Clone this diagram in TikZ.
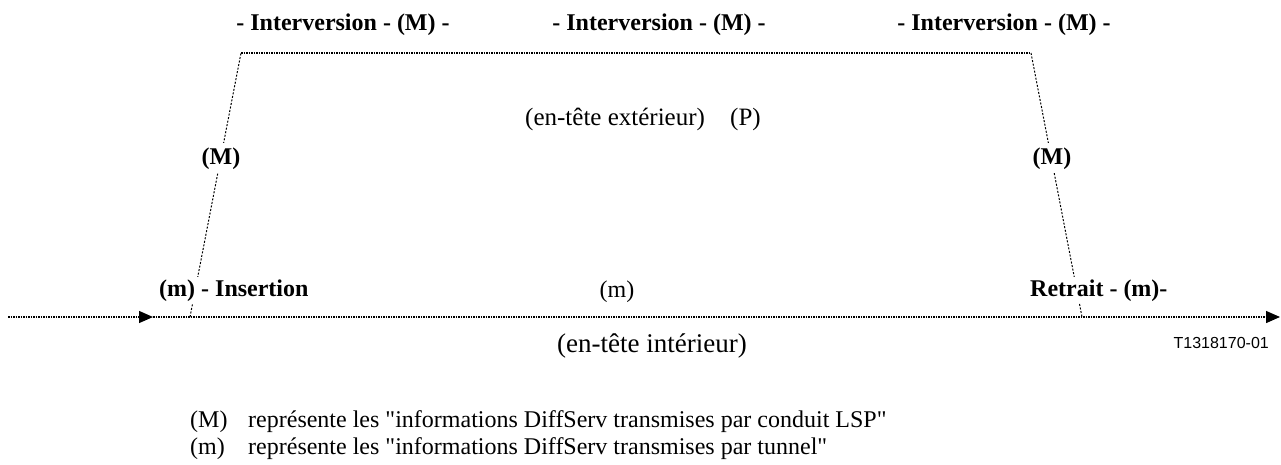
\documentclass[tikz,border=0pt]{standalone}
\usepackage{fontspec}
\setmainfont{Liberation Serif}
\newfontfamily\arialfont{Liberation Sans}
% same serif face, with straight quotes kept as typed
\newfontfamily\rawserif{Liberation Serif}[Ligatures=TeXOff]
\usetikzlibrary{arrows.meta}

\tikzset{
  headerline/.style={line width=1.3pt, dash pattern=on 1.5pt off 1pt},
  slantline/.style={line width=1pt, dash pattern=on 2pt off 1.6pt},
  tip/.style={-{Triangle[length=14pt,width=12pt]}},
  boldlabel/.style={font=\fontsize{24}{27}\selectfont\bfseries, inner sep=2pt, anchor=base},
  masklabel/.style={boldlabel, fill=white, inner sep=4pt},
  plainlabel/.style={font=\fontsize{24}{27}\selectfont, inner sep=0pt},
  legendlabel/.style={font=\rawserif\fontsize{24}{27}\selectfont, inner sep=0pt, anchor=base west},
  reflabel/.style={font=\arialfont\fontsize{16}{19}\selectfont, inner sep=0pt, anchor=base east},
}

\begin{document}
\begin{tikzpicture}[x=1pt, y=-1pt]
  \useasboundingbox (0,0) rectangle (1281,464);

  % corners of the outer-header path
  \coordinate (bl) at (190,317);
  \coordinate (tl) at (241,53);
  \coordinate (tr) at (1031,53);
  \coordinate (br) at (1082,317);

  % inner-header axis
  \coordinate (in)  at (8,317);
  \coordinate (mid) at (153,317);
  \coordinate (out) at (1280,317);

  \draw[headerline, tip] (in) -- (mid);
  \draw[headerline, tip] (mid) -- (out);

  \draw[slantline] (bl) -- (tl);
  \draw[headerline] (tl) -- (tr);
  \draw[slantline] (tr) -- (br);

  % swap labels along the top
  \node[boldlabel] (sw1) at (343,30) {- Interversion - (M) -};
  \node[boldlabel] (sw2) at (659,30) {- Interversion - (M) -};
  \node[boldlabel] (sw3) at (1004,30) {- Interversion - (M) -};

  % outer header
  \node[plainlabel, font=\fontsize{25}{28}\selectfont, anchor=base west] (outer) at (525,125) {(en-tête extérieur)};
  \node[plainlabel, font=\fontsize{25}{28}\selectfont, anchor=base west] (p) at (730,125) {(P)};

  % labels sitting on the slanted segments
  \node[masklabel] (ml) at (221,164) {(M)};
  \node[masklabel] (mr) at (1052,164) {(M)};

  % push / pop labels
  \node[masklabel, anchor=base west, inner sep=2pt] (push) at (157,296) {(m) - Insertion};
  \node[masklabel, anchor=base west, inner sep=2pt] (pop) at (1028,296) {Retrait - (m)-};

  % inner header
  \node[plainlabel, anchor=base] (m) at (617,297) {(m)};
  \node[plainlabel, font=\fontsize{27}{30}\selectfont, anchor=base] (inner) at (652,352) {(en-tête intérieur)};

  \node[reflabel] (ref) at (1269,348) {T1318170-01};

  % legend
  \node[legendlabel] (k1) at (190,427) {(M)};
  \node[legendlabel] (d1) at (248,427) {représente les "informations DiffServ transmises par conduit LSP"};
  \node[legendlabel] (k2) at (190,454) {(m)};
  \node[legendlabel] (d2) at (248,454) {représente les "informations DiffServ transmises par tunnel"};
\end{tikzpicture}
\end{document}
